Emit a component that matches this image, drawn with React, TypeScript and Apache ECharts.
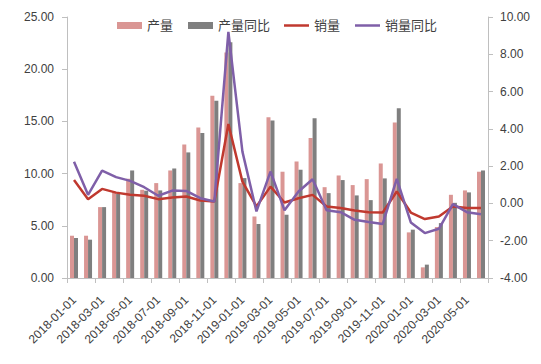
import React, { useEffect, useRef } from "react";
import * as echarts from "echarts";

const categories = [
  "2018-01-01", "2018-02-01", "2018-03-01", "2018-04-01", "2018-05-01", "2018-06-01",
  "2018-07-01", "2018-08-01", "2018-09-01", "2018-10-01", "2018-11-01", "2018-12-01",
  "2019-01-01", "2019-02-01", "2019-03-01", "2019-04-01", "2019-05-01", "2019-06-01",
  "2019-07-01", "2019-08-01", "2019-09-01", "2019-10-01", "2019-11-01", "2019-12-01",
  "2020-01-01", "2020-02-01", "2020-03-01", "2020-04-01", "2020-05-01", "2020-06-01",
];

const production = [
  4.05, 4.05, 6.79, 8.2, 9.5, 8.45, 9.09, 10.3, 12.79, 14.42, 17.45, 21.6,
  9.09, 5.9, 15.4, 10.18, 11.16, 13.4, 8.7, 9.82, 8.9, 9.47, 10.97, 14.9,
  4.37, 1.02, 4.88, 7.97, 8.39, 10.18,
];

const productionYoY = [
  3.83, 3.67, 6.79, 8.07, 10.3, 8.36, 8.39, 10.49, 12.03, 13.9, 16.97, 22.58,
  9.57, 5.17, 15.09, 6.06, 10.37, 15.31, 8.13, 9.38, 7.91, 7.46, 9.54, 16.27,
  4.63, 1.28, 5.26, 7.2, 8.2, 10.3,
];

const sales = [
  1.26, 0.23, 0.78, 0.58, 0.46, 0.41, 0.23, 0.32, 0.37, 0.16, 0.1, 4.26,
  1.17, -0.16, 0.9, 0.05, 0.28, 0.46, -0.16, -0.25, -0.38, -0.47, -0.49, 0.64,
  -0.49, -0.84, -0.7, -0.16, -0.25, -0.25,
];

const salesYoY = [
  2.24, 0.46, 1.76, 1.41, 1.21, 0.87, 0.41, 0.69, 0.67, 0.28, 0.1, 9.2,
  2.78, -0.43, 1.71, -0.37, 0.64, 1.3, -0.37, -0.47, -0.88, -1.0, -1.1, 1.32,
  -1.02, -1.59, -1.36, -0.04, -0.47, -0.58,
];

const FONT = "'Liberation Sans', 'Noto Sans CJK SC', sans-serif";
const TEXT_COLOR = "#404040";

export default function App() {
  const ref = useRef<HTMLDivElement>(null);

  useEffect(() => {
    if (!ref.current) return;
    const chart = echarts.init(ref.current, null, { renderer: "svg" });
    const axisLineStyle = { color: "#BFBFBF", width: 1 };
    const legendText = { fontSize: 13, color: TEXT_COLOR, fontFamily: FONT };
    chart.setOption({
      animation: false,
      backgroundColor: "#ffffff",
      textStyle: { fontFamily: FONT },
      legend: [
        {
          left: 112,
          top: 14,
          itemWidth: 25,
          itemHeight: 7,
          itemGap: 15,
          icon: "rect",
          textStyle: legendText,
          data: ["产量", "产量同比"],
        },
        {
          left: 279,
          top: 14,
          itemWidth: 25,
          itemHeight: 2.5,
          itemGap: 15,
          icon: "rect",
          textStyle: legendText,
          data: ["销量", "销量同比"],
        },
      ],
      grid: { left: 67, right: 53, top: 17, bottom: 86, containLabel: false },
      xAxis: {
        type: "category",
        data: categories,
        boundaryGap: true,
        axisLine: { lineStyle: axisLineStyle },
        axisTick: { show: true, interval: 1, length: 5, lineStyle: axisLineStyle },
        axisLabel: {
          interval: 1,
          rotate: 45,
          fontSize: 12,
          color: TEXT_COLOR,
          margin: 20,
          fontFamily: FONT,
        },
      },
      yAxis: [
        {
          type: "value",
          min: 0,
          max: 25,
          interval: 5,
          position: "left",
          axisLine: { show: true, lineStyle: axisLineStyle },
          axisTick: { show: true, length: 5, lineStyle: axisLineStyle },
          splitLine: { show: false },
          axisLabel: {
            formatter: (v: number) => v.toFixed(2),
            fontSize: 12,
            color: TEXT_COLOR,
            margin: 13,
            fontFamily: FONT,
          },
        },
        {
          type: "value",
          min: -4,
          max: 10,
          interval: 2,
          position: "right",
          axisLine: { show: true, lineStyle: axisLineStyle },
          axisTick: { show: true, length: 5, lineStyle: axisLineStyle },
          splitLine: { show: false },
          axisLabel: {
            formatter: (v: number) => v.toFixed(2),
            fontSize: 12,
            color: TEXT_COLOR,
            margin: 12,
            fontFamily: FONT,
          },
        },
      ],
      series: [
        {
          name: "产量",
          type: "bar",
          yAxisIndex: 0,
          data: production,
          barWidth: 4,
          barGap: "0%",
          itemStyle: { color: "#DA9694" },
        },
        {
          name: "产量同比",
          type: "bar",
          yAxisIndex: 0,
          data: productionYoY,
          barWidth: 4,
          barGap: "0%",
          itemStyle: { color: "#7F7F7F" },
        },
        {
          name: "销量",
          type: "line",
          yAxisIndex: 1,
          data: sales,
          symbol: "none",
          showSymbol: false,
          lineStyle: { color: "#C0392F", width: 2.5 },
          itemStyle: { color: "#C0392F", borderWidth: 0 },
        },
        {
          name: "销量同比",
          type: "line",
          yAxisIndex: 1,
          data: salesYoY,
          symbol: "none",
          showSymbol: false,
          lineStyle: { color: "#7F5FA8", width: 2.5 },
          itemStyle: { color: "#7F5FA8", borderWidth: 0 },
        },
      ],
    });
    return () => chart.dispose();
  }, []);

  return (
    <div
      ref={ref}
      style={{ position: "fixed", left: 0, top: 0, width: 541, height: 364 }}
    />
  );
}
